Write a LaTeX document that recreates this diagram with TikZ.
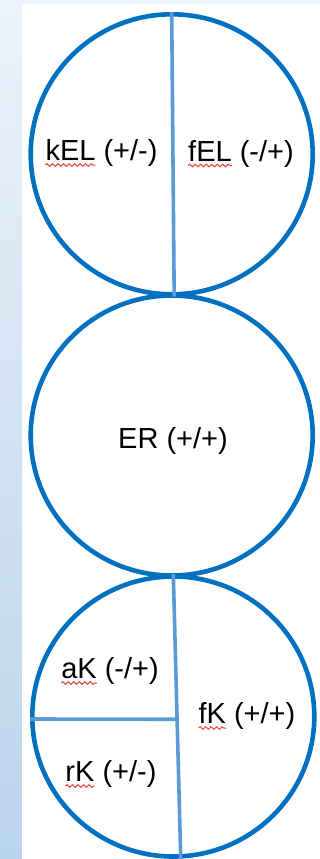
\documentclass[tikz,border=0pt]{standalone}
\usepackage{fontspec}
\setmainfont{Liberation Sans}
\usetikzlibrary{shapes.geometric,calc,decorations.pathmorphing}
\definecolor{ringblue}{HTML}{0070C0}
\definecolor{splitblue}{HTML}{5B9BD5}
\definecolor{bgtop}{HTML}{EBF2FA}
\definecolor{bgbot}{HTML}{BAD4EC}
\definecolor{spellred}{HTML}{E8453C}
\begin{document}
\begin{tikzpicture}[
    x=1pt, y=-1pt,
    ring/.style={draw=ringblue, line width=4.6pt, ellipse, minimum width=282pt, minimum height=280pt, inner sep=0pt},
    split/.style={draw=splitblue, line width=3.6pt},
    label/.style={inner sep=0pt, font=\fontsize{29}{34}\selectfont},
    squiggle/.style={draw=spellred, line width=1pt, decorate, decoration={snake, segment length=5.5pt, amplitude=1.3pt}}
]
\useasboundingbox (0,0) rectangle (320,859);
\shade[top color=bgtop, bottom color=bgbot] (0,0) rectangle (320,859);
\fill[white] (22,4) rectangle (320,859);

\node[ring] (c1) at (171.7,154.3) {};
\node[ring] (c2) at (171.7,435.5) {};
\node[ring] (c3) at (173.3,716.5) {};

% dividers
\draw[split] (c1.90.7) -- (c1.-89.5);
\draw[split] (c3.north) -- (c3.-87.7);
\coordinate (mid) at ($(c3.north)!0.51!(c3.-87.7)$);
\draw[split] (c3.181.4) -- (mid);

\node[label] (kel) at (101.5,153) {kEL (+/-)};
\node[label] (fel) at (241,153.5) {fEL (-/+)};
\node[label] (er) at (173,440.5) {ER (+/+)};
\node[label] (ak) at (110,671) {aK (-/+)};
\node[label] (rk) at (111,774) {rK (+/-)};
\node[label] (fk) at (247,716) {fK (+/+)};

% spell-check marks
\draw[squiggle] ($(kel.base west)+(0,4.5)$) -- ++(50,0);
\draw[squiggle] ($(fel.base west)+(0,4.5)$) -- ++(44,0);
\draw[squiggle] ($(ak.base west)+(0,4.5)$) -- ++(36,0);
\draw[squiggle] ($(rk.base west)+(0,4.5)$) -- ++(29,0);
\draw[squiggle] ($(fk.base west)+(0,4.5)$) -- ++(28,0);
\end{tikzpicture}
\end{document}
